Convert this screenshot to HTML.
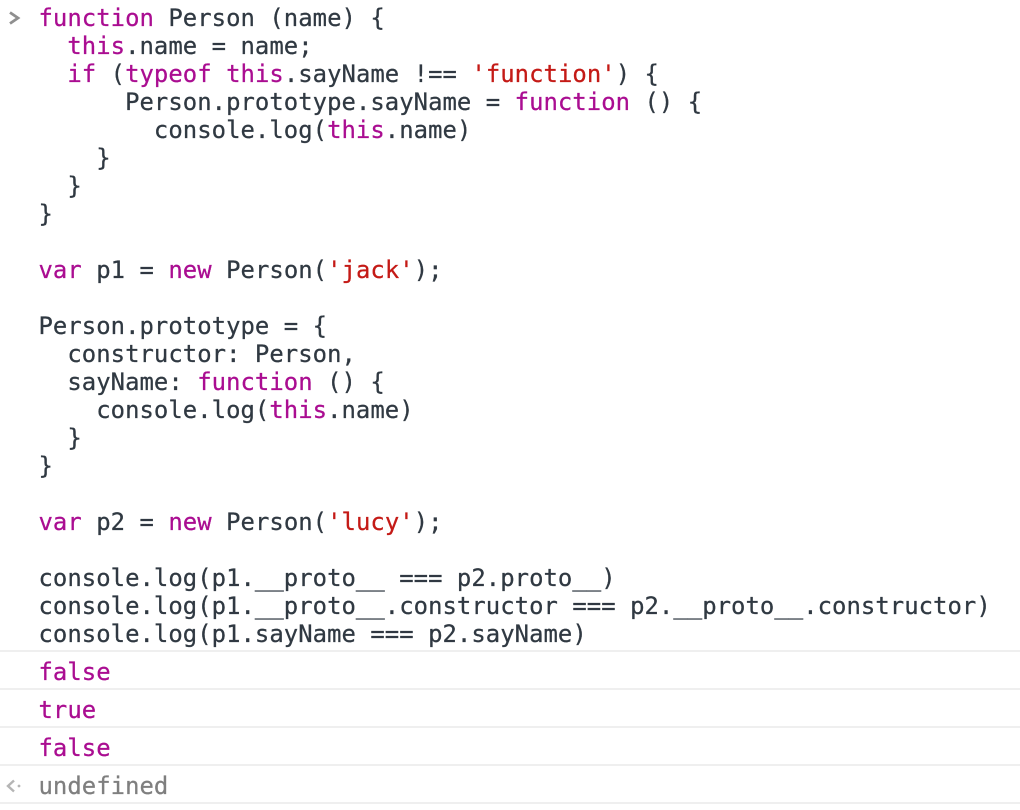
<!DOCTYPE html>
<html>
<head>
<meta charset="utf-8">
<style>
html,body{margin:0;padding:0;background:#fff;width:1020px;height:810px;overflow:hidden}
body{position:relative;font-family:"DejaVu Sans Mono","Liberation Mono",monospace;font-size:23.9px;letter-spacing:0.045px;color:#303942;-webkit-text-stroke:0.25px}
pre{position:absolute;left:38.5px;top:4px;margin:0;font:inherit;line-height:28px;white-space:pre}
.k{color:#aa0d91}
.s{color:#c41a16}
.o{position:absolute;left:38.5px;line-height:28px;color:#aa0d91;white-space:pre}
.u{color:#7f7f7f}
.l{position:absolute;left:0;width:1020px;height:2px;background:#efefef}
svg{position:absolute;left:0;top:0}
</style>
</head>
<body>
<pre><span class="k">function</span> Person (name) {
  <span class="k">this</span>.name = name;
  <span class="k">if</span> (<span class="k">typeof</span> <span class="k">this</span>.sayName !== <span class="s">'function'</span>) {
      Person.prototype.sayName = <span class="k">function</span> () {
        console.log(<span class="k">this</span>.name)
    }
  }
}

<span class="k">var</span> p1 = <span class="k">new</span> Person(<span class="s">'jack'</span>);

Person.prototype = {
  constructor: Person,
  sayName: <span class="k">function</span> () {
    console.log(<span class="k">this</span>.name)
  }
}

<span class="k">var</span> p2 = <span class="k">new</span> Person(<span class="s">'lucy'</span>);

console.log(p1.__proto__ === p2.proto__)
console.log(p1.__proto__.constructor === p2.__proto__.constructor)
console.log(p1.sayName === p2.sayName)</pre>
<div class="l" style="top:650px"></div>
<div class="o" style="top:658px">false</div>
<div class="l" style="top:688px"></div>
<div class="o" style="top:696px">true</div>
<div class="l" style="top:726px"></div>
<div class="o" style="top:734px">false</div>
<div class="l" style="top:764px"></div>
<div class="o u" style="top:772px">undefined</div>
<div class="l" style="top:802px"></div>
<svg width="1020" height="810" viewBox="0 0 1020 810">
<path d="M10 12.5 L18 18 L10 23.5" fill="none" stroke="#8f8f8f" stroke-width="2.8"/>
<path d="M14 780.5 L8 786 L14 791.5" fill="none" stroke="#b5b5b5" stroke-width="2.4"/>
<circle cx="19" cy="786" r="1.4" fill="#b5b5b5"/>
</svg>
</body>
</html>
